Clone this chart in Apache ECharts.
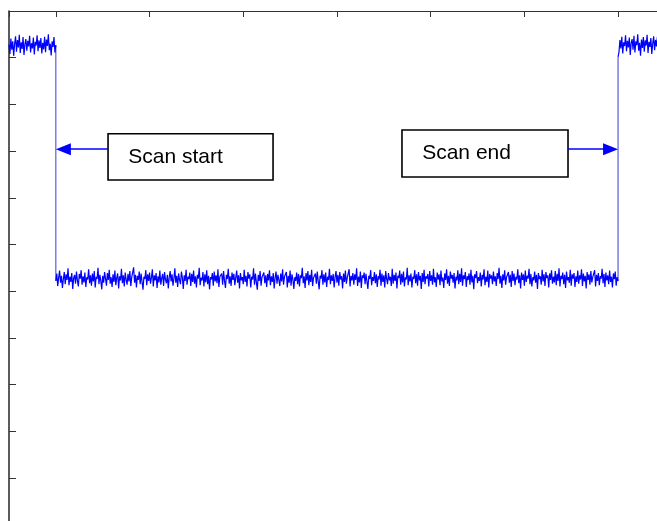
<!DOCTYPE html>
<html>
<head>
<meta charset="utf-8">
<script src="https://cdn.jsdelivr.net/npm/echarts@6/dist/echarts.min.js"></script>
<style>
html,body{margin:0;padding:0;background:#fff;}
#chart{width:657px;height:521px;}
</style>
</head>
<body>
<div id="chart"></div>
<script>
// sampling step of the trace (x units; one top tick = 1 unit)
const sampleStep = 0.01;
const leftStart = -0.5;
const lowStart = 0;
const rightStart = 6;

// before scan (high level)
const leftHigh = [10.28,10.08,10.41,10.17,10.35,10.04,10.30,10.46,10.13,10.38,10.22,10.49,10.10,10.33,10.19,10.44,10.06,10.29,10.40,10.15,10.36,10.24,10.47,10.11,10.31,10.20,10.43,10.07,10.34,10.26,10.48,10.14,10.37,10.21,10.42,10.09,10.32,10.18,10.45,10.12,10.39,10.25,10.50,10.16,10.30,10.05,10.35,10.23,10.44,10.11,10.27];

// during scan (low level)
const lowLevel = [
5.22,5.38,5.11,5.29,5.44,5.18,5.33,5.07,5.26,5.41,5.15,5.36,5.24,5.49,5.13,5.31,5.20,5.39,5.05,5.28,
5.35,5.16,5.42,5.23,5.10,5.37,5.27,5.45,5.14,5.32,5.19,5.40,5.09,5.30,5.25,5.47,5.17,5.34,5.12,5.38,
5.21,5.43,5.08,5.31,5.26,5.50,5.15,5.35,5.22,5.04,5.33,5.18,5.41,5.27,5.12,5.39,5.24,5.46,5.16,5.30,
5.09,5.36,5.20,5.44,5.13,5.29,5.38,5.06,5.32,5.23,5.48,5.17,5.34,5.10,5.40,5.25,5.14,5.37,5.21,5.43,
5.11,5.30,5.27,5.51,5.18,5.35,5.08,5.33,5.24,5.42,5.15,5.38,5.20,5.03,5.31,5.26,5.45,5.13,5.36,5.22,
5.40,5.16,5.29,5.47,5.10,5.34,5.23,5.39,5.07,5.32,5.19,5.44,5.14,5.28,5.37,5.11,5.41,5.25,5.17,5.35,
5.06,5.30,5.43,5.21,5.36,5.12,5.27,5.49,5.18,5.33,5.09,5.38,5.24,5.15,5.42,5.29,5.05,5.34,5.22,5.46,
5.14,5.31,5.26,5.40,5.11,5.37,5.20,5.44,5.16,5.32,5.08,5.35,5.27,5.50,5.13,5.29,5.23,5.41,5.10,5.36,
5.19,5.45,5.15,5.33,5.04,5.30,5.25,5.39,5.12,5.42,5.21,5.34,5.17,5.47,5.09,5.31,5.28,5.38,5.14,5.43,
5.22,5.07,5.35,5.26,5.48,5.16,5.32,5.11,5.40,5.24,5.37,5.13,5.29,5.44,5.18,5.34,5.06,5.39,5.23,5.30,
5.15,5.46,5.20,5.33,5.10,5.41,5.27,5.36,5.08,5.31,5.25,5.49,5.14,5.38,5.19,5.03,5.35,5.22,5.43,5.12,
5.30,5.26,5.40,5.17,5.34,5.09,5.37,5.23,5.45,5.13,5.32,5.20,5.39,5.06,5.29,5.42,5.16,5.35,5.24,5.11,
5.38,5.21,5.47,5.14,5.31,5.27,5.41,5.08,5.33,5.18,5.44,5.12,5.36,5.25,5.05,5.30,5.22,5.40,5.15,5.37,
5.10,5.34,5.28,5.50,5.17,5.32,5.07,5.39,5.23,5.43,5.13,5.35,5.20,5.46,5.11,5.29,5.26,5.38,5.16,5.42,
5.21,5.04,5.33,5.27,5.45,5.14,5.36,5.19,5.40,5.09,5.31,5.24,5.48,5.15,5.34,5.22,5.37,5.08,5.30,5.43,
5.18,5.35,5.12,5.41,5.25,5.32,5.06,5.38,5.20,5.44,5.16,5.29,5.27,5.47,5.10,5.33,5.23,5.39,5.14,5.36,
5.24,5.49,5.11,5.31,5.19,5.42,5.07,5.34,5.28,5.40,5.15,5.37,5.21,5.05,5.33,5.26,5.45,5.13,5.30,5.22,
5.41,5.17,5.36,5.09,5.32,5.25,5.46,5.12,5.38,5.20,5.34,5.08,5.43,5.27,5.15,5.39,5.23,5.31,5.11,5.48,
5.16,5.35,5.22,5.40,5.06,5.33,5.28,5.44,5.14,5.37,5.19,5.42,5.10,5.30,5.25,5.50,5.13,5.34,5.21,5.38,
5.08,5.31,5.26,5.45,5.17,5.36,5.12,5.41,5.23,5.33,5.05,5.39,5.20,5.46,5.15,5.32,5.27,5.37,5.10,5.43,
5.22,5.34,5.14,5.48,5.19,5.30,5.09,5.40,5.25,5.36,5.13,5.44,5.21,5.29,5.07,5.38,5.24,5.47,5.16,5.33,
5.11,5.42,5.27,5.35,5.18,5.39,5.06,5.31,5.23,5.45,5.15,5.37,5.20,5.49,5.12,5.34,5.26,5.41,5.09,5.32,
5.24,5.38,5.14,5.46,5.19,5.33,5.04,5.36,5.28,5.43,5.17,5.30,5.22,5.40,5.10,5.35,5.25,5.47,5.13,5.31,
5.20,5.44,5.08,5.37,5.27,5.34,5.15,5.42,5.21,5.32,5.11,5.39,5.26,5.50,5.16,5.33,5.07,5.36,5.23,5.45,
5.14,5.30,5.28,5.41,5.18,5.35,5.09,5.43,5.22,5.38,5.13,5.31,5.25,5.47,5.17,5.34,5.06,5.40,5.24,5.36,
5.12,5.44,5.20,5.33,5.27,5.48,5.15,5.37,5.10,5.30,5.23,5.42,5.18,5.35,5.05,5.39,5.26,5.32,5.14,5.46,
5.21,5.36,5.11,5.41,5.28,5.34,5.08,5.38,5.24,5.45,5.16,5.31,5.19,5.43,5.13,5.37,5.22,5.49,5.10,5.33,
5.26,5.40,5.15,5.35,5.07,5.42,5.23,5.30,5.18,5.46,5.12,5.36,5.27,5.39,5.09,5.32,5.20,5.44,5.16,5.34,
5.25,5.47,5.11,5.38,5.21,5.33,5.06,5.41,5.24,5.36,5.14,5.43,5.19,5.30,5.28,5.45,5.10,5.35,5.22,5.39,
5.13,5.32,5.27,5.48,5.17,5.37,5.09,5.40,5.23,5.34,5.15,5.44,5.20,5.31,5.08,5.38,5.26,5.42,5.12,5.30,
5.22];

// after scan (high level)
const rightHigh = [10.02,10.12,10.38,10.20,10.45,10.09,10.33,10.25,10.48,10.14,10.36,10.22,10.43,10.06,10.31,10.40,10.17,10.47,10.11,10.35,10.27,10.50,10.15,10.32,10.04,10.39,10.21,10.44,10.13,10.37,10.26,10.49,10.10,10.34,10.23,10.42,10.08,10.30,10.46,10.16,10.38,10.24,10.45,10.12,10.33];

// annotations (data coordinates)
const startBox = {x0:0.557, x1:2.318, y0:7.38, y1:8.37, text:'Scan start'};
const endBox = {x0:3.694, x1:5.466, y0:7.445, y1:8.452, text:'Scan end'};
const arrowY = 8.04;
const arrowHead = 0.08; // half of the arrowhead length, in x units

const seg = (arr, start) => arr.map((v,i)=>[start + i*sampleStep, v]);
const leftSeg = seg(leftHigh, leftStart);
const lowSeg = seg(lowLevel, lowStart);
const rightSeg = seg(rightHigh, rightStart);
const steps = [
  [leftSeg[leftSeg.length-1], lowSeg[0]],
  [lowSeg[lowSeg.length-1], rightSeg[0]]
];

const chart = echarts.init(document.getElementById('chart'), null, {renderer:'canvas'});
const boxStyle = {color:'#ffffff', borderColor:'#000', borderWidth:1.6, opacity:1};
const boxLabel = {show:true, position:'insideLeft', distance:21, color:'#000', fontFamily:'Liberation Sans, Arial, sans-serif', fontSize:21};
const noiseStyle = {color:'#0000ff', width:1.2};
chart.setOption({
  animation:false,
  backgroundColor:'#ffffff',
  grid:{left:9, top:11, width:655.9, height:513.7, outerBoundsMode:'none', containLabel:false},
  xAxis:{
    type:'value', position:'top', min:-0.5, max:6.5, splitNumber:7,
    axisLine:{show:true, onZero:false, lineStyle:{color:'#333', width:1}},
    axisTick:{show:true, inside:true, length:6, lineStyle:{color:'#333'}},
    axisLabel:{show:false},
    splitLine:{show:false}
  },
  yAxis:{
    type:'value', min:0, max:11, interval:1,
    axisLine:{show:true, onZero:false, lineStyle:{color:'#333', width:1.6}},
    axisTick:{show:true, inside:true, length:7, lineStyle:{color:'#333'}},
    axisLabel:{show:false},
    splitLine:{show:false}
  },
  series:[
    {type:'line', data:leftSeg, showSymbol:false, lineStyle:noiseStyle, z:2},
    {type:'line', data:rightSeg, showSymbol:false, lineStyle:noiseStyle, z:2},
    {type:'line', data:steps[0], showSymbol:false, lineStyle:{color:'#3a3ad8', width:1}, z:1},
    {type:'line', data:steps[1], showSymbol:false, lineStyle:{color:'#3a3ad8', width:1}, z:1},
    {
      type:'line', data:lowSeg, showSymbol:false, lineStyle:noiseStyle, z:2,
      markArea:{
        silent:true,
        z:5,
        data:[
          [{xAxis:startBox.x0, yAxis:startBox.y1, itemStyle:boxStyle, label:boxLabel, name:startBox.text},{xAxis:startBox.x1, yAxis:startBox.y0}],
          [{xAxis:endBox.x0, yAxis:endBox.y1, itemStyle:boxStyle, label:boxLabel, name:endBox.text},{xAxis:endBox.x1, yAxis:endBox.y0}]
        ]
      },
      markLine:{
        silent:true,
        symbol:['none','triangle'],
        symbolSize:[12,15],
        lineStyle:{color:'#0000ff', width:1.5, type:'solid'},
        label:{show:false},
        data:[
          [{coord:[startBox.x0, arrowY]},{coord:[lowStart + arrowHead, arrowY]}],
          [{coord:[endBox.x1, arrowY]},{coord:[rightStart - arrowHead, arrowY]}]
        ]
      }
    }
  ]
});
</script>
</body>
</html>
